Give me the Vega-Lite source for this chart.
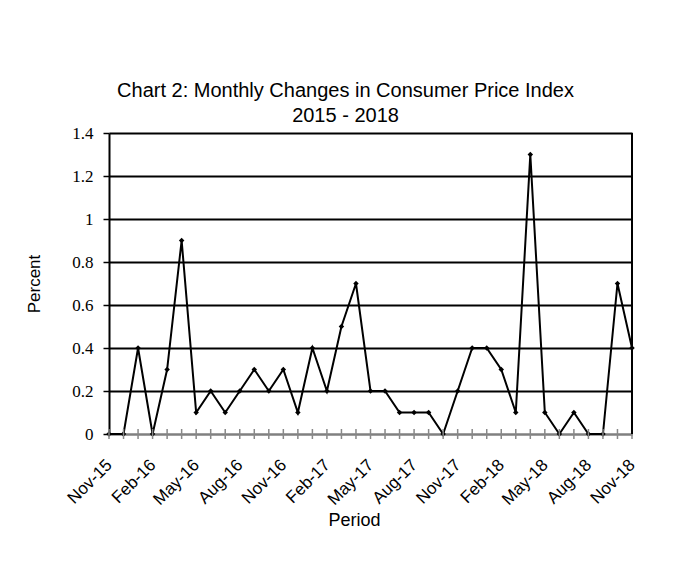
{
  "$schema": "https://vega.github.io/schema/vega-lite/v6.json",
  "width": 523,
  "height": 301,
  "autosize": {"type": "none"},
  "padding": {"left": 109, "top": 133, "right": 57, "bottom": 130},
  "background": "white",
  "config": {"view": {"stroke": null}, "font": "Liberation Sans"},
  "title": {
    "text": ["Chart 2: Monthly Changes in Consumer Price Index", "2015 - 2018"],
    "fontSize": 20,
    "fontWeight": "normal",
    "font": "Liberation Sans",
    "color": "black",
    "anchor": "middle",
    "frame": "group",
    "dx": -25,
    "offset": -2,
    "lineHeight": 25
  },
  "data": {
    "values": [
      {"period": "Nov-15", "value": 0},
      {"period": "Dec-15", "value": 0},
      {"period": "Jan-16", "value": 0.4},
      {"period": "Feb-16", "value": 0},
      {"period": "Mar-16", "value": 0.3},
      {"period": "Apr-16", "value": 0.9},
      {"period": "May-16", "value": 0.1},
      {"period": "Jun-16", "value": 0.2},
      {"period": "Jul-16", "value": 0.1},
      {"period": "Aug-16", "value": 0.2},
      {"period": "Sep-16", "value": 0.3},
      {"period": "Oct-16", "value": 0.2},
      {"period": "Nov-16", "value": 0.3},
      {"period": "Dec-16", "value": 0.1},
      {"period": "Jan-17", "value": 0.4},
      {"period": "Feb-17", "value": 0.2},
      {"period": "Mar-17", "value": 0.5},
      {"period": "Apr-17", "value": 0.7},
      {"period": "May-17", "value": 0.2},
      {"period": "Jun-17", "value": 0.2},
      {"period": "Jul-17", "value": 0.1},
      {"period": "Aug-17", "value": 0.1},
      {"period": "Sep-17", "value": 0.1},
      {"period": "Oct-17", "value": 0},
      {"period": "Nov-17", "value": 0.2},
      {"period": "Dec-17", "value": 0.4},
      {"period": "Jan-18", "value": 0.4},
      {"period": "Feb-18", "value": 0.3},
      {"period": "Mar-18", "value": 0.1},
      {"period": "Apr-18", "value": 1.3},
      {"period": "May-18", "value": 0.1},
      {"period": "Jun-18", "value": 0},
      {"period": "Jul-18", "value": 0.1},
      {"period": "Aug-18", "value": 0},
      {"period": "Sep-18", "value": 0},
      {"period": "Oct-18", "value": 0.7},
      {"period": "Nov-18", "value": 0.4}
    ]
  },
  "encoding": {
    "x": {
      "field": "period",
      "type": "ordinal",
      "sort": null,
      "scale": {"type": "point", "padding": 0},
      "axis": {
        "values": ["Nov-15", "Feb-16", "May-16", "Aug-16", "Nov-16", "Feb-17", "May-17", "Aug-17", "Nov-17", "Feb-18", "May-18", "Aug-18", "Nov-18"],
        "title": "Period",
        "titleFont": "Liberation Sans",
        "titleFontSize": 18,
        "titleFontWeight": "normal",
        "titleColor": "black",
        "titleX": 245,
        "titleY": 91,
        "titleAlign": "center",
        "titleBaseline": "alphabetic",
        "labelAngle": -45,
        "labelAlign": "right",
        "labelBaseline": "middle",
        "labelFont": "Liberation Sans",
        "labelFontSize": 17,
        "labelColor": "black",
        "labelPadding": 28,
        "ticks": false,
        "grid": false,
        "domainColor": "#808080",
        "domainWidth": 2
      }
    }
  },
  "layer": [
    {
      "mark": {"type": "line", "color": "black", "strokeWidth": 2, "point": {"filled": true, "color": "black", "size": 30, "shape": "diamond"}},
      "encoding": {
        "y": {
          "field": "value",
          "type": "quantitative",
          "scale": {"domain": [0, 1.4], "nice": false, "zero": true},
          "axis": {
            "values": [0, 0.2, 0.4, 0.6, 0.8, 1, 1.2, 1.4],
            "format": "~g",
            "title": "Percent",
            "titleFont": "Liberation Sans",
            "titleFontSize": 17,
            "titleFontWeight": "normal",
            "titleColor": "black",
            "titlePadding": 28,
            "labelFont": "Liberation Serif",
            "labelFontSize": 17,
            "labelColor": "black",
            "labelPadding": 10,
            "tickColor": "black",
            "tickSize": 6,
            "tickWidth": 1.5,
            "domainColor": "black",
            "domainWidth": 2,
            "grid": true,
            "gridWidth": 2,
            "gridColor": {"condition": {"test": "datum.value === 0", "value": "#808080"}, "value": "black"}
          }
        }
      }
    },
    {
      "mark": {"type": "point", "shape": "stroke", "angle": 90, "size": 100, "stroke": "#888888", "strokeWidth": 1.5, "filled": false, "opacity": 1},
      "encoding": {"y": {"datum": 0, "type": "quantitative"}}
    },
    {
      "mark": {"type": "rule", "color": "black", "strokeWidth": 2},
      "encoding": {
        "x": {"datum": "Nov-18"},
        "y": {"datum": 0, "type": "quantitative"},
        "y2": {"datum": 1.4}
      }
    }
  ]
}
